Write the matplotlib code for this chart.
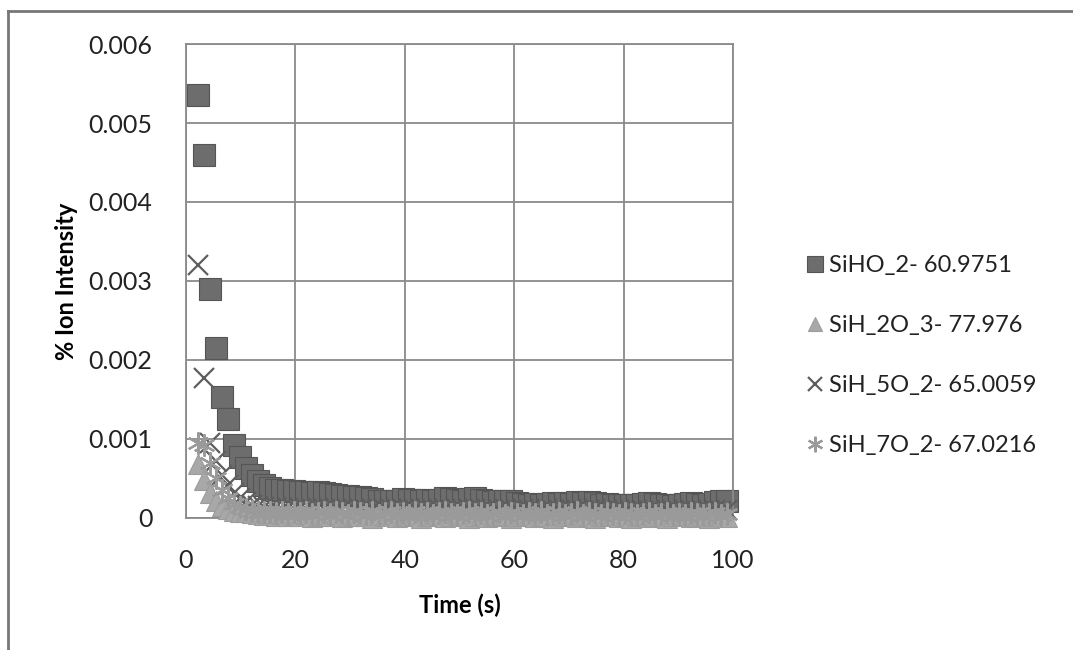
import numpy as np
import matplotlib
matplotlib.use("Agg")
import matplotlib.pyplot as plt
from matplotlib.lines import Line2D

plt.rcParams['font.family'] = ['Lato', 'DejaVu Sans']

# sample times (s)
time_s = [2.2, 3.3, 4.4, 5.5, 6.6, 7.7, 8.8, 9.9, 11.0, 12.1,
          13.2, 14.3, 15.4, 16.5, 17.6, 18.7, 19.8, 20.9, 22.0, 23.1,
          24.2, 25.3, 26.4, 27.5, 28.6, 29.7, 30.8, 31.9, 33.0, 34.1,
          35.2, 36.3, 37.4, 38.5, 39.6, 40.7, 41.8, 42.9, 44.0, 45.1,
          46.2, 47.3, 48.4, 49.5, 50.6, 51.7, 52.8, 53.9, 55.0, 56.1,
          57.2, 58.3, 59.4, 60.5, 61.6, 62.7, 63.8, 64.9, 66.0, 67.1,
          68.2, 69.3, 70.4, 71.5, 72.6, 73.7, 74.8, 75.9, 77.0, 78.1,
          79.2, 80.3, 81.4, 82.5, 83.6, 84.7, 85.8, 86.9, 88.0, 89.1,
          90.2, 91.3, 92.4, 93.5, 94.6, 95.7, 96.8, 97.9, 99.0]

# intensities in units of 1e-3 %
siho_2 = [5.35, 4.60, 2.90, 2.15, 1.53, 1.25, 0.93, 0.77, 0.63, 0.55,
          0.47, 0.42, 0.38, 0.36, 0.35, 0.34, 0.34, 0.33, 0.33, 0.32,
          0.33, 0.31, 0.30, 0.29, 0.28, 0.28, 0.27, 0.26, 0.25, 0.24,
          0.22, 0.21, 0.22, 0.21, 0.24, 0.23, 0.23, 0.22, 0.23, 0.22,
          0.23, 0.25, 0.24, 0.23, 0.22, 0.24, 0.25, 0.23, 0.22, 0.20,
          0.21, 0.22, 0.21, 0.19, 0.18, 0.17, 0.18, 0.17, 0.18, 0.19,
          0.18, 0.19, 0.18, 0.20, 0.19, 0.20, 0.19, 0.17, 0.18, 0.17,
          0.16, 0.17, 0.16, 0.17, 0.18, 0.19, 0.18, 0.17, 0.16, 0.15,
          0.16, 0.18, 0.19, 0.18, 0.17, 0.18, 0.20, 0.21, 0.22]
sih2o3 = [0.68, 0.48, 0.32, 0.22, 0.15, 0.11, 0.09, 0.08, 0.07, 0.06,
          0.05, 0.04, 0.06, 0.03, 0.05, 0.02, 0.04, 0.03, 0.05, 0.01,
          0.03, 0.04, 0.02, 0.05, 0.01, 0.03, 0.04, 0.02, 0.03, 0.00,
          0.04, 0.02, 0.05, 0.01, 0.03, 0.02, 0.04, 0.00, 0.03, 0.02,
          0.04, 0.01, 0.03, 0.05, 0.02, 0.00, 0.03, 0.04, 0.01, 0.03,
          0.02, 0.04, 0.00, 0.03, 0.02, 0.04, 0.01, 0.03, 0.02, 0.00,
          0.04, 0.02, 0.03, 0.01, 0.04, 0.02, 0.00, 0.03, 0.02, 0.04,
          0.01, 0.03, 0.00, 0.02, 0.04, 0.01, 0.03, 0.02, 0.00, 0.03,
          0.02, 0.04, 0.01, 0.02, 0.03, 0.00, 0.02, 0.03, 0.01]
sih5o2 = [3.20, 1.77, 0.95, 0.72, 0.55, 0.42, 0.32, 0.25, 0.20, 0.17,
          0.15, 0.14, 0.13, 0.14, 0.12, 0.13, 0.12, 0.13, 0.11, 0.12,
          0.13, 0.11, 0.12, 0.11, 0.12, 0.10, 0.12, 0.11, 0.10, 0.11,
          0.12, 0.10, 0.11, 0.10, 0.12, 0.11, 0.10, 0.11, 0.12, 0.10,
          0.11, 0.12, 0.10, 0.11, 0.10, 0.12, 0.11, 0.10, 0.11, 0.09,
          0.10, 0.11, 0.10, 0.09, 0.11, 0.10, 0.09, 0.10, 0.11, 0.09,
          0.10, 0.09, 0.11, 0.10, 0.09, 0.10, 0.11, 0.09, 0.10, 0.09,
          0.10, 0.09, 0.08, 0.10, 0.09, 0.10, 0.09, 0.08, 0.10, 0.09,
          0.08, 0.09, 0.10, 0.09, 0.08, 0.09, 0.10, 0.09, 0.10]
sih7o2 = [0.95, 0.92, 0.70, 0.50, 0.35, 0.25, 0.18, 0.14, 0.11, 0.09,
          0.08, 0.07, 0.08, 0.06, 0.07, 0.05, 0.08, 0.06, 0.07, 0.05,
          0.06, 0.08, 0.05, 0.07, 0.06, 0.04, 0.07, 0.06, 0.05, 0.07,
          0.04, 0.06, 0.07, 0.05, 0.06, 0.04, 0.07, 0.05, 0.06, 0.04,
          0.06, 0.07, 0.05, 0.04, 0.06, 0.07, 0.05, 0.06, 0.04, 0.05,
          0.07, 0.04, 0.06, 0.05, 0.04, 0.06, 0.05, 0.07, 0.04, 0.05,
          0.06, 0.04, 0.05, 0.07, 0.04, 0.06, 0.05, 0.04, 0.06, 0.05,
          0.04, 0.06, 0.05, 0.04, 0.05, 0.06, 0.04, 0.05, 0.06, 0.04,
          0.05, 0.04, 0.06, 0.05, 0.04, 0.05, 0.06, 0.04, 0.05]

labels = ["SiHO_2- 60.9751", "SiH_2O_3- 77.976", "SiH_5O_2- 65.0059", "SiH_7O_2- 67.0216"]
scale = 1e-3

fig = plt.figure(figsize=(10.73, 6.5), dpi=100)
ax = fig.add_axes([0.1733, 0.2031, 0.5098, 0.7292])

t = np.array(time_s)
h_sq, = ax.plot(t, np.array(siho_2) * scale, ls='none', marker='s', ms=16.5,
                mfc='#6d6d6d', mec='#555555', mew=0.8, clip_on=False, zorder=2)
h_x, = ax.plot(t, np.array(sih5o2) * scale, ls='none', marker='x', ms=15,
               mec='#5e5e5e', mew=1.6, clip_on=False, zorder=3)
h_tri, = ax.plot(t, np.array(sih2o3) * scale, ls='none', marker='^', ms=15,
                 mfc='#a8a8a8', mec='#9c9c9c', mew=0.8, clip_on=False, zorder=4)
h_ast, = ax.plot(t, np.array(sih7o2) * scale, ls='none', marker=(6, 2, 0), ms=16,
                 mec='#9a9a9a', mew=1.6, clip_on=False, zorder=5)

ax.set_xlim(0, 100)
ax.set_ylim(0, 0.006)
ax.set_xticks([0, 20, 40, 60, 80, 100])
ax.set_yticks([0, 0.001, 0.002, 0.003, 0.004, 0.005, 0.006])
ax.set_yticklabels(["0", "0.001", "0.002", "0.003", "0.004", "0.005", "0.006"])
ax.grid(True, color='#8a8a8a', lw=1.3)
ax.set_axisbelow(True)
for sp in ax.spines.values():
    sp.set_color('#8a8a8a')
    sp.set_linewidth(1.3)
ax.tick_params(length=0, labelsize=18, colors='#222222')
ax.tick_params(axis='y', pad=24)
ax.tick_params(axis='x', pad=22)

ax.set_xlabel("Time (s)", fontsize=17, fontweight='bold', labelpad=16)
ax.set_ylabel("% Ion Intensity", fontsize=17, fontweight='bold', labelpad=8)

leg = fig.legend([h_sq, h_tri, h_x, h_ast], labels, loc='upper left',
                 bbox_to_anchor=(0.732, 0.64), frameon=False, fontsize=17,
                 handlelength=0.7, handletextpad=0.25, labelspacing=1.65,
                 markerscale=0.7)
for txt in leg.get_texts():
    txt.set_color('#222222')

# outer frame (top and left edges)
fig.add_artist(Line2D([0.0075, 1.0], [0.983, 0.983], color='#777777', lw=2))
fig.add_artist(Line2D([0.0075, 0.0075], [0.0, 0.983], color='#777777', lw=2))

fig.savefig("out.png", dpi=100, facecolor='white')
